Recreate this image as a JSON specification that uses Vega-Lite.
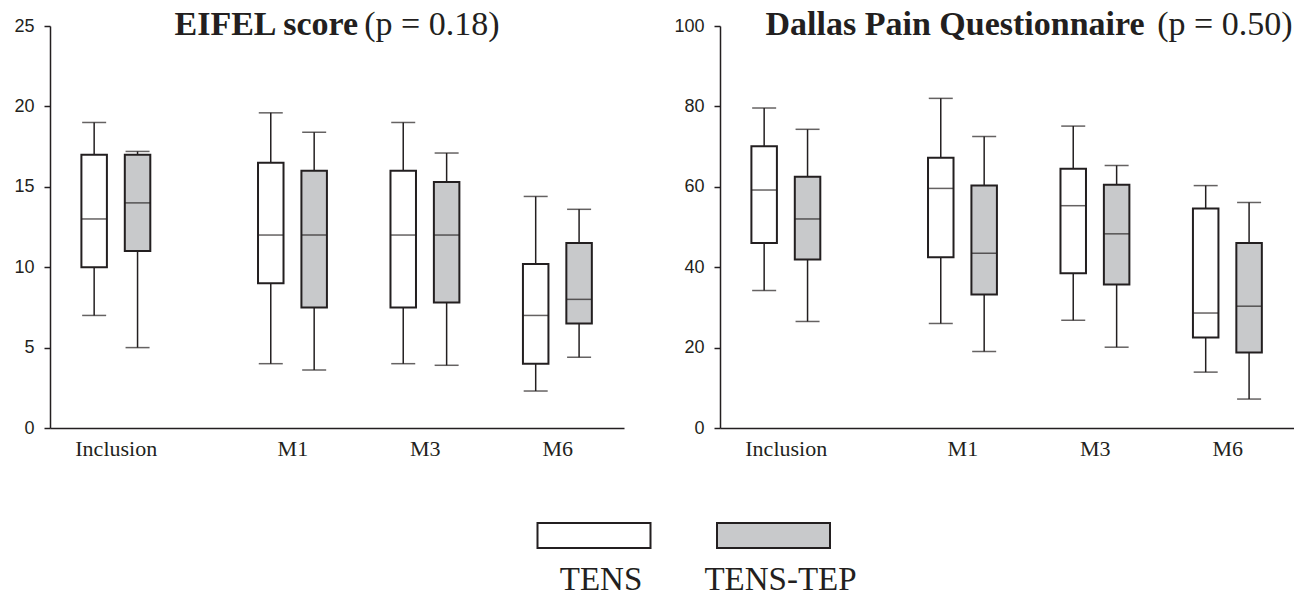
{
  "$schema": "https://vega.github.io/schema/vega-lite/v6.json",
  "padding": {"left": 13, "top": 7, "right": 0, "bottom": 0},
  "background": "white",
  "config": {
    "view": {"stroke": null},
    "axis": {
      "grid": false,
      "domainColor": "#231f20",
      "domainWidth": 1.5,
      "tickColor": "#231f20",
      "tickWidth": 1.5,
      "labelColor": "#231f20",
      "titleColor": "#231f20"
    }
  },
  "datasets": {
    "eifel": [
      {"time": "Inclusion", "group": "TENS", "min": 7, "q1": 10, "median": 13, "q3": 17, "max": 19},
      {"time": "Inclusion", "group": "TENS-TEP", "min": 5, "q1": 11, "median": 14, "q3": 17, "max": 17.2},
      {"time": "M1", "group": "TENS", "min": 4, "q1": 9, "median": 12, "q3": 16.5, "max": 19.6},
      {"time": "M1", "group": "TENS-TEP", "min": 3.6, "q1": 7.5, "median": 12, "q3": 16, "max": 18.4},
      {"time": "M3", "group": "TENS", "min": 4, "q1": 7.5, "median": 12, "q3": 16, "max": 19},
      {"time": "M3", "group": "TENS-TEP", "min": 3.9, "q1": 7.8, "median": 12, "q3": 15.3, "max": 17.1},
      {"time": "M6", "group": "TENS", "min": 2.3, "q1": 4, "median": 7, "q3": 10.2, "max": 14.4},
      {"time": "M6", "group": "TENS-TEP", "min": 4.4, "q1": 6.5, "median": 8, "q3": 11.5, "max": 13.6}
    ],
    "dallas": [
      {"time": "Inclusion", "group": "TENS", "min": 34.2, "q1": 46, "median": 59.2, "q3": 70.1, "max": 79.6},
      {"time": "Inclusion", "group": "TENS-TEP", "min": 26.5, "q1": 41.9, "median": 52, "q3": 62.5, "max": 74.3},
      {"time": "M1", "group": "TENS", "min": 26, "q1": 42.5, "median": 59.6, "q3": 67.2, "max": 82},
      {"time": "M1", "group": "TENS-TEP", "min": 19, "q1": 33.2, "median": 43.5, "q3": 60.3, "max": 72.5},
      {"time": "M3", "group": "TENS", "min": 26.8, "q1": 38.5, "median": 55.3, "q3": 64.5, "max": 75.1},
      {"time": "M3", "group": "TENS-TEP", "min": 20.1, "q1": 35.7, "median": 48.3, "q3": 60.5, "max": 65.3},
      {"time": "M6", "group": "TENS", "min": 13.9, "q1": 22.5, "median": 28.6, "q3": 54.6, "max": 60.3},
      {"time": "M6", "group": "TENS-TEP", "min": 7.2, "q1": 18.8, "median": 30.3, "q3": 46, "max": 56.1}
    ],
    "legend": [
      {"group": "TENS"},
      {"group": "TENS-TEP"}
    ]
  },
  "spacing": 63,
  "vconcat": [
    {
      "spacing": 49,
      "hconcat": [
        {
          "width": 574,
          "height": 402,
          "data": {"name": "eifel"},
          "encoding": {
            "x": {
              "field": "time", "type": "nominal",
              "scale": {"type": "band", "domain": ["Inclusion", "f1", "f2", "f3", "M1", "f5", "f6", "M3", "f8", "f9", "M6"], "paddingInner": 0, "paddingOuter": 1.11},
              "axis": {"title": "(p = 0.18)", "values": ["Inclusion", "M1", "M3", "M6"], "ticks": false, "tickSize": 0, "labelAngle": 0, "labelFont": "Liberation Serif", "labelFontSize": 22, "labelPadding": 10, "titleX": 449, "titleY": -394, "titleAlign": "right", "titleBaseline": "alphabetic", "titleFont": "Liberation Serif", "titleFontSize": 34, "titleFontWeight": "normal"}
            },
            "xOffset": {"field": "group", "type": "nominal", "scale": {"domain": ["TENS", "TENS-TEP"], "range": [-21.7, 65.1], "paddingInner": 0, "paddingOuter": 0}}
          },
          "layer": [
            {
              "mark": {"type": "rule", "color": "#231f20", "strokeWidth": 1.5},
              "encoding": {
                "y": {"field": "min", "type": "quantitative", "scale": {"domain": [0, 25], "nice": false}, "axis": {"title": "EIFEL score", "values": [0, 5, 10, 15, 20, 25], "tickSize": 6, "labelFont": "Liberation Sans", "labelFontSize": 18, "labelPadding": 10, "titleAngle": 0, "titleX": 124, "titleY": 8, "titleAlign": "left", "titleBaseline": "alphabetic", "titleFont": "Liberation Serif", "titleFontSize": 34, "titleFontWeight": "bold"}},
                "y2": {"field": "max"}
              }
            },
            {
              "mark": {"type": "bar", "width": 25.5, "stroke": "#231f20", "strokeWidth": 2},
              "encoding": {
                "y": {"field": "q1", "type": "quantitative", "scale": {"domain": [0, 25], "nice": false}, "axis": {"title": "EIFEL score", "values": [0, 5, 10, 15, 20, 25], "tickSize": 6, "labelFont": "Liberation Sans", "labelFontSize": 18, "labelPadding": 10, "titleAngle": 0, "titleX": 124, "titleY": 8, "titleAlign": "left", "titleBaseline": "alphabetic", "titleFont": "Liberation Serif", "titleFontSize": 34, "titleFontWeight": "bold"}},
                "y2": {"field": "q3"},
                "fill": {"field": "group", "type": "nominal", "scale": {"domain": ["TENS", "TENS-TEP"], "range": ["#ffffff", "#c8c9cb"]}, "legend": null}
              }
            },
            {
              "mark": {"type": "tick", "color": "#231f20", "thickness": 1.5, "size": 25.5},
              "encoding": {
                "y": {"field": "median", "type": "quantitative", "scale": {"domain": [0, 25], "nice": false}, "axis": {"title": "EIFEL score", "values": [0, 5, 10, 15, 20, 25], "tickSize": 6, "labelFont": "Liberation Sans", "labelFontSize": 18, "labelPadding": 10, "titleAngle": 0, "titleX": 124, "titleY": 8, "titleAlign": "left", "titleBaseline": "alphabetic", "titleFont": "Liberation Serif", "titleFontSize": 34, "titleFontWeight": "bold"}}
              }
            },
            {
              "mark": {"type": "tick", "color": "#231f20", "thickness": 1.5, "size": 24},
              "encoding": {
                "y": {"field": "min", "type": "quantitative", "scale": {"domain": [0, 25], "nice": false}, "axis": {"title": "EIFEL score", "values": [0, 5, 10, 15, 20, 25], "tickSize": 6, "labelFont": "Liberation Sans", "labelFontSize": 18, "labelPadding": 10, "titleAngle": 0, "titleX": 124, "titleY": 8, "titleAlign": "left", "titleBaseline": "alphabetic", "titleFont": "Liberation Serif", "titleFontSize": 34, "titleFontWeight": "bold"}}
              }
            },
            {
              "mark": {"type": "tick", "color": "#231f20", "thickness": 1.5, "size": 24},
              "encoding": {
                "y": {"field": "max", "type": "quantitative", "scale": {"domain": [0, 25], "nice": false}, "axis": {"title": "EIFEL score", "values": [0, 5, 10, 15, 20, 25], "tickSize": 6, "labelFont": "Liberation Sans", "labelFontSize": 18, "labelPadding": 10, "titleAngle": 0, "titleX": 124, "titleY": 8, "titleAlign": "left", "titleBaseline": "alphabetic", "titleFont": "Liberation Serif", "titleFontSize": 34, "titleFontWeight": "bold"}}
              }
            }
          ]
        },
        {
          "width": 574,
          "height": 402,
          "data": {"name": "dallas"},
          "encoding": {
            "x": {
              "field": "time", "type": "nominal",
              "scale": {"type": "band", "domain": ["Inclusion", "f1", "f2", "f3", "M1", "f5", "f6", "M3", "f8", "f9", "M6"], "paddingInner": 0, "paddingOuter": 1.11},
              "axis": {"title": "(p = 0.50)", "values": ["Inclusion", "M1", "M3", "M6"], "ticks": false, "tickSize": 0, "labelAngle": 0, "labelFont": "Liberation Serif", "labelFontSize": 22, "labelPadding": 10, "titleX": 572, "titleY": -394, "titleAlign": "right", "titleBaseline": "alphabetic", "titleFont": "Liberation Serif", "titleFontSize": 34, "titleFontWeight": "normal"}
            },
            "xOffset": {"field": "group", "type": "nominal", "scale": {"domain": ["TENS", "TENS-TEP"], "range": [-21.7, 65.1], "paddingInner": 0, "paddingOuter": 0}}
          },
          "layer": [
            {
              "mark": {"type": "rule", "color": "#231f20", "strokeWidth": 1.5},
              "encoding": {
                "y": {"field": "min", "type": "quantitative", "scale": {"domain": [0, 100], "nice": false}, "axis": {"title": "Dallas Pain Questionnaire", "values": [0, 20, 40, 60, 80, 100], "tickSize": 6, "labelFont": "Liberation Sans", "labelFontSize": 18, "labelPadding": 10, "titleAngle": 0, "titleX": 45, "titleY": 8, "titleAlign": "left", "titleBaseline": "alphabetic", "titleFont": "Liberation Serif", "titleFontSize": 34, "titleFontWeight": "bold"}},
                "y2": {"field": "max"}
              }
            },
            {
              "mark": {"type": "bar", "width": 25.5, "stroke": "#231f20", "strokeWidth": 2},
              "encoding": {
                "y": {"field": "q1", "type": "quantitative", "scale": {"domain": [0, 100], "nice": false}, "axis": {"title": "Dallas Pain Questionnaire", "values": [0, 20, 40, 60, 80, 100], "tickSize": 6, "labelFont": "Liberation Sans", "labelFontSize": 18, "labelPadding": 10, "titleAngle": 0, "titleX": 45, "titleY": 8, "titleAlign": "left", "titleBaseline": "alphabetic", "titleFont": "Liberation Serif", "titleFontSize": 34, "titleFontWeight": "bold"}},
                "y2": {"field": "q3"},
                "fill": {"field": "group", "type": "nominal", "scale": {"domain": ["TENS", "TENS-TEP"], "range": ["#ffffff", "#c8c9cb"]}, "legend": null}
              }
            },
            {
              "mark": {"type": "tick", "color": "#231f20", "thickness": 1.5, "size": 25.5},
              "encoding": {
                "y": {"field": "median", "type": "quantitative", "scale": {"domain": [0, 100], "nice": false}, "axis": {"title": "Dallas Pain Questionnaire", "values": [0, 20, 40, 60, 80, 100], "tickSize": 6, "labelFont": "Liberation Sans", "labelFontSize": 18, "labelPadding": 10, "titleAngle": 0, "titleX": 45, "titleY": 8, "titleAlign": "left", "titleBaseline": "alphabetic", "titleFont": "Liberation Serif", "titleFontSize": 34, "titleFontWeight": "bold"}}
              }
            },
            {
              "mark": {"type": "tick", "color": "#231f20", "thickness": 1.5, "size": 24},
              "encoding": {
                "y": {"field": "min", "type": "quantitative", "scale": {"domain": [0, 100], "nice": false}, "axis": {"title": "Dallas Pain Questionnaire", "values": [0, 20, 40, 60, 80, 100], "tickSize": 6, "labelFont": "Liberation Sans", "labelFontSize": 18, "labelPadding": 10, "titleAngle": 0, "titleX": 45, "titleY": 8, "titleAlign": "left", "titleBaseline": "alphabetic", "titleFont": "Liberation Serif", "titleFontSize": 34, "titleFontWeight": "bold"}}
              }
            },
            {
              "mark": {"type": "tick", "color": "#231f20", "thickness": 1.5, "size": 24},
              "encoding": {
                "y": {"field": "max", "type": "quantitative", "scale": {"domain": [0, 100], "nice": false}, "axis": {"title": "Dallas Pain Questionnaire", "values": [0, 20, 40, 60, 80, 100], "tickSize": 6, "labelFont": "Liberation Sans", "labelFontSize": 18, "labelPadding": 10, "titleAngle": 0, "titleX": 45, "titleY": 8, "titleAlign": "left", "titleBaseline": "alphabetic", "titleFont": "Liberation Serif", "titleFontSize": 34, "titleFontWeight": "bold"}}
              }
            }
          ]
        }
      ]
    },
    {
      "width": 1200,
      "height": 25,
      "data": {"name": "legend"},
      "encoding": {
        "x": {"field": "group", "type": "nominal", "scale": {"type": "point", "domain": ["TENS", "TENS-TEP"], "range": [544, 723.5], "padding": 0}, "axis": null}
      },
      "layer": [
        {
          "mark": {"type": "bar", "width": 113, "stroke": "#231f20", "strokeWidth": 2},
          "encoding": {
            "fill": {"field": "group", "type": "nominal", "scale": {"domain": ["TENS", "TENS-TEP"], "range": ["#ffffff", "#c8c9cb"]}, "legend": null}
          }
        },
        {
          "mark": {"type": "text", "font": "Liberation Serif", "fontSize": 33, "color": "#231f20", "baseline": "alphabetic", "dy": 54, "dx": 7},
          "encoding": {
            "text": {"field": "group"}
          }
        }
      ]
    }
  ]
}
